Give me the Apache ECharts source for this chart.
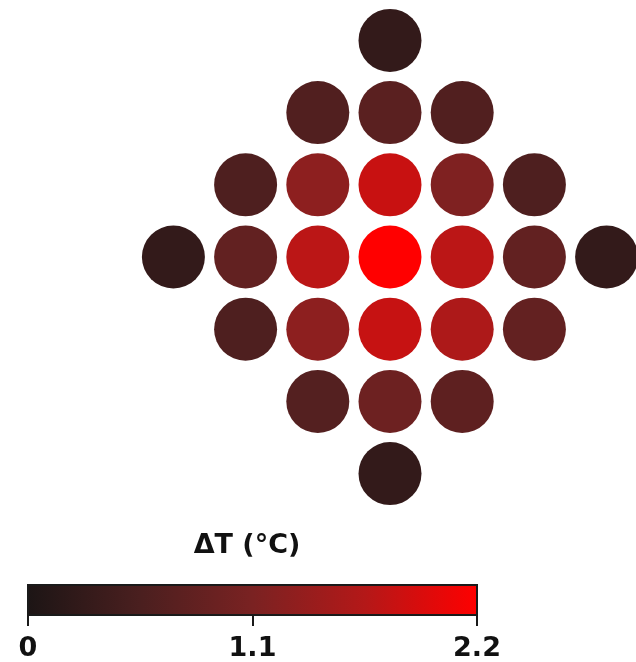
<!DOCTYPE html>
<html>
<head>
<meta charset="utf-8">
<script src="https://cdn.jsdelivr.net/npm/echarts@6/dist/echarts.min.js"></script>
<style>
  html, body { margin: 0; padding: 0; background: #fff; }
  #chart { width: 636px; height: 662px; }
</style>
</head>
<body>
<div id="chart"></div>
<script>
// Sensor positions on a diamond lattice (column, row) and temperature rise at each
const colPos = [0,
  -1, 0, 1,
  -2, -1, 0, 1, 2,
  -3, -2, -1, 0, 1, 2, 3,
  -2, -1, 0, 1, 2,
  -1, 0, 1,
  0];
const rowPos = [3,
  2, 2, 2,
  1, 1, 1, 1, 1,
  0, 0, 0, 0, 0, 0, 0,
  -1, -1, -1, -1, -1,
  -2, -2, -2,
  -3];
const deltaT = [0.27,
  0.63, 0.73, 0.63,
  0.60, 1.28, 1.80, 1.15, 0.60,
  0.27, 0.83, 1.70, 2.20, 1.70, 0.83, 0.27,
  0.60, 1.28, 1.78, 1.58, 0.84,
  0.66, 0.95, 0.78,
  0.27];

// Colour scale
const scaleMin = 0;
const scaleMax = 2.2;
const scaleTicks = [0, 1.1, 2.2];
const rampColors = ['#1c1515', '#4a1f1f', '#7a2222', '#b41818', '#ff0000'];
const titleText = 'ΔT (°C)';

const points = colPos.map((c, i) => [c, rowPos[i], deltaT[i]]);
const rampStops = rampColors.map((c, i) => ({ offset: i / (rampColors.length - 1), color: c }));

const chart = echarts.init(document.getElementById('chart'), null, { renderer: 'canvas' });
chart.setOption({
  backgroundColor: '#ffffff',
  animation: false,
  title: {
    text: titleText,
    left: 242,
    top: 527,
    textAlign: 'center',
    textStyle: { fontFamily: 'DejaVu Sans', fontWeight: 'bold', fontSize: 27, color: '#111' }
  },
  grid: [
    { left: 173.4, top: 40.4, width: 433.2, height: 433.2, show: false },
    {
      left: 28, top: 585, width: 449, height: 32, show: true,
      backgroundColor: new echarts.graphic.LinearGradient(0, 0, 1, 0, rampStops),
      borderColor: '#1a1a1a', borderWidth: 2
    }
  ],
  xAxis: [
    { gridIndex: 0, type: 'value', min: -3, max: 3, show: false },
    {
      gridIndex: 1, type: 'value', min: scaleMin, max: scaleMax, interval: 1.1,
      position: 'bottom',
      axisLine: { show: false },
      splitLine: { show: false },
      axisTick: { show: true, length: 11, lineStyle: { color: '#1a1a1a', width: 2 } },
      axisLabel: {
        show: true, margin: 20,
        fontFamily: 'DejaVu Sans', fontWeight: 'bold', fontSize: 27, color: '#111',
        showMinLabel: true, showMaxLabel: true,
        formatter: v => {
          const t = scaleTicks.find(s => Math.abs(s - v) < 1e-6);
          return t === undefined ? '' : String(t);
        }
      }
    }
  ],
  yAxis: [
    { gridIndex: 0, type: 'value', min: -3, max: 3, show: false },
    { gridIndex: 1, type: 'value', min: 0, max: 1, show: false }
  ],
  visualMap: {
    show: false,
    type: 'continuous',
    seriesIndex: 0,
    dimension: 2,
    min: scaleMin,
    max: scaleMax,
    inRange: { color: rampColors, opacity: 1 }
  },
  series: [
    {
      type: 'scatter',
      xAxisIndex: 0,
      yAxisIndex: 0,
      clip: false,
      symbol: 'circle',
      symbolSize: 63,
      itemStyle: { opacity: 1 },
      data: points
    }
  ]
});
</script>
</body>
</html>
